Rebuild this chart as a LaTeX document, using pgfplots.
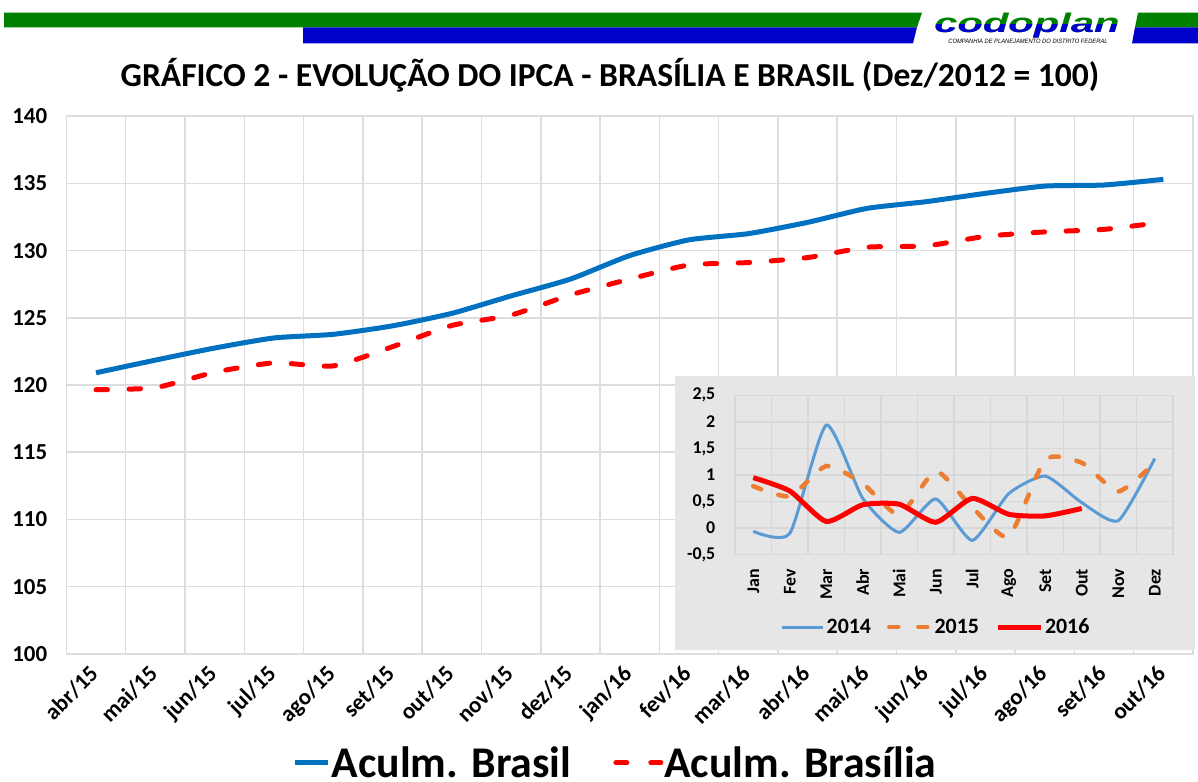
\documentclass[border=0pt]{standalone}
\usepackage{pgfplots}
\pgfplotsset{compat=1.18}
\usepackage{fontspec}
\setmainfont{Carlito}
\newfontfamily\logofont{Liberation Sans}
\definecolor{hgreen}{RGB}{0,128,0}
\definecolor{hblue}{RGB}{0,0,204}
\definecolor{mblue}{HTML}{0070C0}
\definecolor{mred}{HTML}{FF0000}
\definecolor{gridc}{HTML}{DDDDDD}
\definecolor{igrid}{HTML}{D8D8D8}
\definecolor{ibg}{HTML}{E6E6E6}
\definecolor{c14}{HTML}{5B9BD5}
\definecolor{c15}{HTML}{ED7D31}
\definecolor{c16}{HTML}{FF0000}

\pgfplotstableread{
x brasil brasilia
0 120.91 119.65
1 121.85 119.80
2 122.75 120.95
3 123.50 121.65
4 123.77 121.42
5 124.40 122.85
6 125.33 124.43
7 126.63 125.20
8 127.88 126.70
9 129.63 127.88
10 130.80 128.93
11 131.26 129.11
12 132.10 129.48
13 133.14 130.25
14 133.64 130.35
15 134.26 131.06
16 134.80 131.39
17 134.88 131.58
18 135.30 132.12
}\maintab

\pgfplotstableread{
x y14 y15
0 -0.06 0.79
1 -0.10 0.60
2 1.94 1.17
3 0.56 0.84
4 -0.08 0.25
5 0.55 1.07
6 -0.23 0.39
7 0.65 -0.16
8 0.98 1.29
9 0.48 1.23
10 0.14 0.69
11 1.31 1.23
}\insettab

\pgfplotstableread{
x y16
0 0.95
1 0.70
2 0.125
3 0.44
4 0.45
5 0.11
6 0.56
7 0.26
8 0.23
9 0.37
}\insettabb

\begin{document}
\begin{tikzpicture}
\useasboundingbox (0bp,0bp) rectangle (1198bp,782bp);
\fill[white] (0bp,0bp) rectangle (1198bp,782bp);
% header bands
\fill[hgreen] (4bp,769.3bp) -- (922bp,769.3bp) -- (917bp,754.7bp) -- (4bp,754.7bp) -- cycle;
\fill[hblue] (303bp,754.7bp) -- (917bp,754.7bp) -- (913bp,738.7bp) -- (303bp,738.7bp) -- cycle;
\fill[hgreen] (1138bp,769.3bp) -- (1198bp,769.3bp) -- (1198bp,754.7bp) -- (1135bp,754.7bp) -- cycle;
\fill[hblue] (1135bp,754.7bp) -- (1198bp,754.7bp) -- (1198bp,738.7bp) -- (1132bp,738.7bp) -- cycle;
% logo
\node[font=\logofont\bfseries\itshape\fontsize{27}{27}\selectfont, text=hgreen, xscale=1.55, anchor=base, inner sep=0pt] at (1027bp,749bp) {codoplan};
\begin{scope}
\clip (900bp,700bp) rectangle (1140bp,757bp);
\node[font=\logofont\bfseries\itshape\fontsize{27}{27}\selectfont, text=hblue, xscale=1.55, anchor=base, inner sep=0pt] at (1027bp,749bp) {codoplan};
\end{scope}
\node[font=\logofont\itshape\fontsize{6.3}{6.3}\selectfont, anchor=base, inner sep=0pt, xscale=0.92] at (1028bp,738bp) {COMPANHIA DE PLANEJAMENTO DO DISTRITO FEDERAL};
% title
\node[font=\bfseries\fontsize{33.7}{33.7}\selectfont, inner sep=0pt] at (610bp,707bp) {GRÁFICO 2 - EVOLUÇÃO DO IPCA - BRASÍLIA E BRASIL (Dez/2012 = 100)};

\begin{axis}[
  at={(66.4bp,128.2bp)}, anchor=south west, scale only axis,
  width=1126.6bp, height=537.6bp,
  xmin=-0.5, xmax=18.5, ymin=100, ymax=140,
  xtick={0,...,18},
  xticklabels={abr/15,mai/15,jun/15,jul/15,ago/15,set/15,out/15,nov/15,dez/15,jan/16,fev/16,mar/16,abr/16,mai/16,jun/16,jul/16,ago/16,set/16,out/16},
  minor xtick={-0.5,0.5,...,18.5},
  ytick={100,105,...,140},
  xmajorgrids=false, xminorgrids=true, ymajorgrids=true,
  grid style={draw=gridc, line width=1.5bp},
  minor grid style={draw=gridc, line width=1.5bp},
  axis line style={draw=gridc, line width=1.5bp},
  major tick length=0pt, minor tick length=0pt,
  /pgf/number format/assume math mode=true,
  yticklabel style={font=\bfseries\fontsize{23}{23}\selectfont, anchor=east, inner sep=0pt, xshift=-19bp},
  xticklabel style={font=\bfseries\fontsize{23}{23}\selectfont, yshift=-10bp, xshift=-8bp, rotate=45, anchor=north east, inner sep=0pt},
  legend columns=2,
  legend style={at={(0.487,-0.2030)}, anchor=center, draw=none, fill=none,
    font=\bfseries\fontsize{44}{44}\selectfont, nodes={inner sep=1bp},
    /tikz/every even column/.append style={column sep=41bp}},
  legend cell align=left,
]
\addplot[mblue, line width=5bp, smooth, tension=0.35,
  legend image code/.code={\draw[mblue, line width=5bp] (0bp,0bp) -- (33bp,0bp);}]
  table[x=x, y=brasil] {\maintab};
\addlegendentry{Aculm. Brasil}
\addplot[mred, line width=5bp, smooth, tension=0.35, line cap=round, dash pattern=on 11.5bp off 21.5bp,
  legend image code/.code={\draw[mred, line width=5bp, line cap=round, dash pattern=on 11bp off 24bp] (2bp,0bp) -- (47bp,0bp);}]
  table[x=x, y=brasilia] {\maintab};
\addlegendentry{Aculm. Brasília}
\end{axis}

% inset background
\fill[ibg] (675.4bp,132bp) rectangle (1195bp,406bp);

\begin{axis}[
  at={(735bp,227.3bp)}, anchor=south west, scale only axis,
  width=438bp, height=159.4bp,
  xmin=-0.5, xmax=11.5, ymin=-0.5, ymax=2.5,
  xtick={0,...,11},
  xticklabels={Jan,Fev,Mar,Abr,Mai,Jun,Jul,Ago,Set,Out,Nov,Dez},
  minor xtick={-0.5,0.5,...,11.5},
  ytick={-0.5,0,0.5,1,1.5,2,2.5},
  xmajorgrids=false, xminorgrids=true, ymajorgrids=true,
  grid style={draw=igrid, line width=1.5bp},
  minor grid style={draw=igrid, line width=1.5bp},
  axis line style={draw=igrid, line width=1.5bp},
  major tick length=0pt, minor tick length=0pt,
  /pgf/number format/assume math mode=true,
  /pgf/number format/use comma,
  yticklabel style={font=\bfseries\fontsize{18}{18}\selectfont, anchor=east, inner sep=0pt, xshift=-19.5bp},
  xticklabel style={font=\bfseries\fontsize{18}{18}\selectfont, yshift=-14bp, rotate=90, anchor=east, inner sep=0pt},
  legend columns=3,
  legend style={at={(0.459,-0.4536)}, anchor=center, draw=none, fill=none,
    font=\bfseries\fontsize{22}{22}\selectfont, nodes={inner sep=2bp},
    /tikz/every even column/.append style={column sep=14bp}},
  legend cell align=left,
]
\addplot[c14, line width=3bp, smooth, tension=0.35,
  legend image code/.code={\draw[c14, line width=3bp] (0bp,0bp) -- (41bp,0bp);}]
  table[x=x, y=y14] {\insettab};
\addlegendentry{2014}
\addplot[c15, line width=4.5bp, smooth, tension=0.35, line cap=round, dash pattern=on 8.5bp off 18bp,
  legend image code/.code={\draw[c15, line width=4.5bp, line cap=round, dash pattern=on 9bp off 20bp] (2bp,0bp) -- (43bp,0bp);}]
  table[x=x, y=y15] {\insettab};
\addlegendentry{2015}
\addplot[c16, line width=5bp, smooth, tension=0.35,
  legend image code/.code={\draw[c16, line width=5bp] (0bp,0bp) -- (43bp,0bp);}]
  table[x=x, y=y16] {\insettabb};
\addlegendentry{2016}
\end{axis}
\end{tikzpicture}
\end{document}
